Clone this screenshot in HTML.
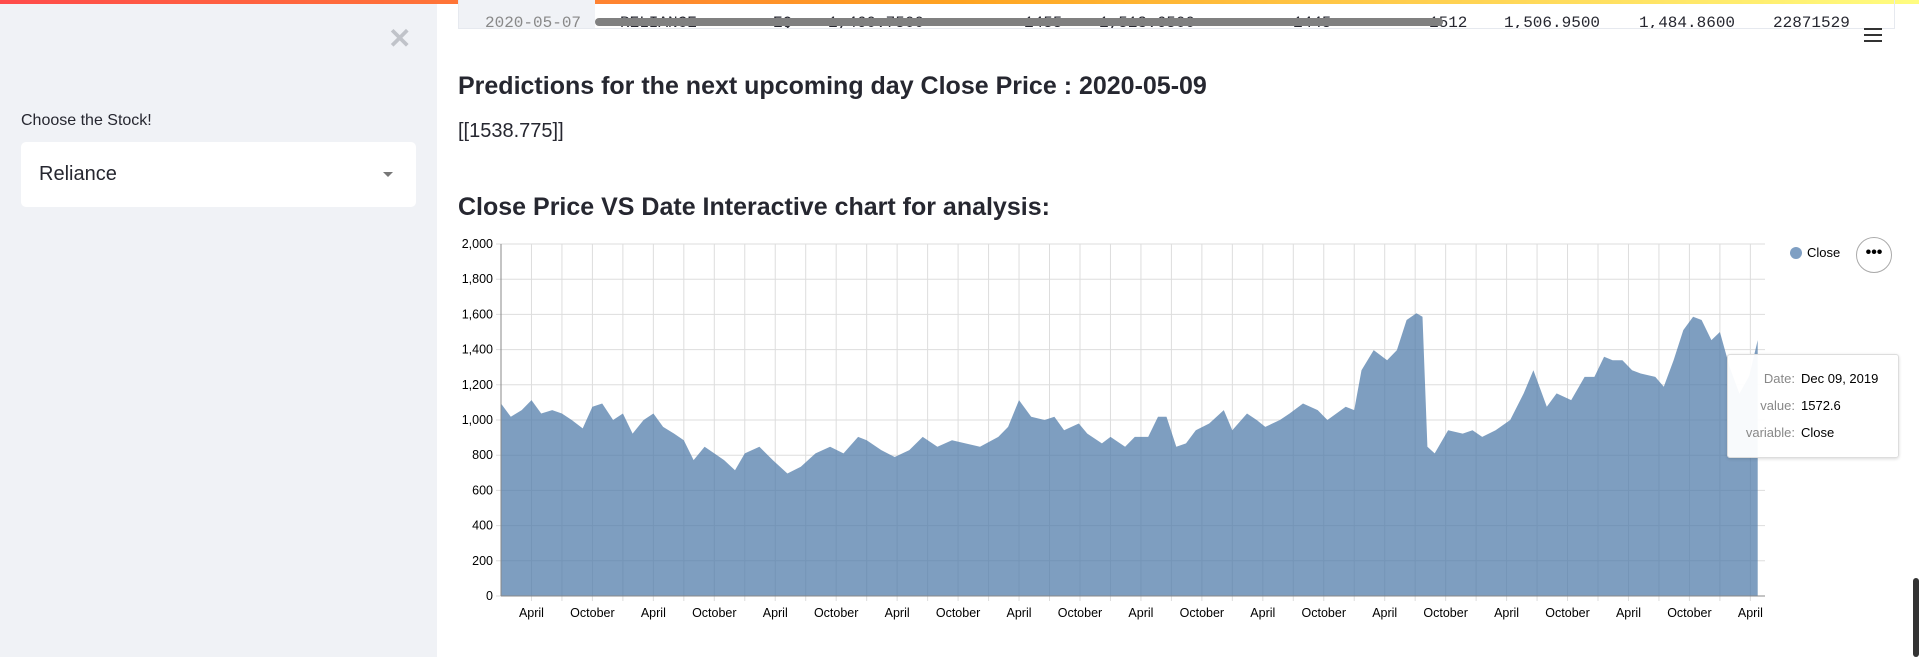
<!DOCTYPE html>
<html><head><meta charset="utf-8">
<style>
body{margin:0;width:1919px;height:657px;overflow:hidden;background:#fff;font-family:"Liberation Sans",sans-serif;position:relative}
.abs{position:absolute}
.mono{font-family:"Liberation Mono",monospace}
</style></head><body>
<div class="abs" style="left:0;top:0;width:1919px;height:4px;background:linear-gradient(90deg,#ff4b4b,#ffa421,#fffd80)"></div>
<div class="abs" style="left:0;top:4px;width:437px;height:653px;background:#f0f2f6">
  <div class="abs" style="left:388px;top:18px;font-size:28px;color:#c0c3c9;font-weight:bold">✕</div>
  <div class="abs" style="left:21px;top:108px;font-size:16px;color:#262730">Choose the Stock!</div>
  <div class="abs" style="left:21px;top:138px;width:395px;height:65px;background:#fff;border-radius:5px">
    <div class="abs" style="left:18px;top:21px;font-size:20px;color:#262730">Reliance</div>
    <div class="abs" style="left:362px;top:30px;width:0;height:0;border-left:5px solid transparent;border-right:5px solid transparent;border-top:5px solid #777"></div>
  </div>
</div>
<div class="abs" style="left:458px;top:0;width:1435px;height:28px;border:1px solid #e6e9ef;border-top:none;overflow:hidden">
  <div class="abs" style="left:0;top:0;width:136px;height:28px;background:#f0f2f6"></div>
  <div class="abs mono" style="left:0;top:-4px;height:20px;width:1435px;font-size:16px;color:#262730;white-space:pre">
    <span class="abs" style="left:26px;color:#888">2020-05-07</span><span class="abs" style="left:161px">RELIANCE</span><span class="abs" style="left:314px">EQ</span><span class="abs" style="left:369px">1,460.7500</span><span class="abs" style="left:565px">1455</span><span class="abs" style="left:640px">1,513.6500</span><span class="abs" style="left:834px">1445</span><span class="abs" style="left:970px">1512</span><span class="abs" style="left:1045px">1,506.9500</span><span class="abs" style="left:1180px">1,484.8600</span><span class="abs" style="left:1314px">22871529</span>
  </div>
  <div class="abs" style="left:136px;top:18px;width:848px;height:8px;background:#808080;border-radius:4px"></div>
</div>
<div class="abs" style="left:1864px;top:28px;width:18px">
  <div style="height:2px;background:#333;margin-bottom:4px"></div><div style="height:2px;background:#333;margin-bottom:4px"></div><div style="height:2px;background:#333"></div>
</div>
<div class="abs" style="left:458px;top:72px;font-size:25px;font-weight:bold;color:#262730">Predictions for the next upcoming day Close Price : 2020-05-09</div>
<div class="abs" style="left:458px;top:120px;font-size:20px;color:#262730">[[1538.775]]</div>
<div class="abs" style="left:458px;top:193px;font-size:25px;font-weight:bold;color:#262730">Close Price VS Date Interactive chart for analysis:</div>
<svg class="abs" id="chart" style="left:0;top:0" width="1919" height="657"></svg>
<div class="abs" style="left:1790px;top:244px;font-size:13px;color:#000">
  <span style="display:inline-block;width:12px;height:12px;border-radius:6px;background:#7f9fc3;vertical-align:middle;margin-right:5px"></span><span style="vertical-align:middle">Close</span></div>
<div class="abs" style="left:1856px;top:237px;width:34px;height:34px;border-radius:18px;border:1px solid #aaa;background:#fff;text-align:center;font-size:16px;line-height:30px;font-weight:bold">•••</div>
<div class="abs" style="left:1727px;top:354px;width:170px;height:102px;background:rgba(255,255,255,0.95);border:1px solid #ddd;border-radius:3px;box-shadow:0 1px 3px rgba(0,0,0,0.15);font-size:13px">
  <div class="abs" style="right:103px;top:16px;color:#888">Date:</div><div class="abs" style="left:73px;top:16px">Dec 09, 2019</div>
  <div class="abs" style="right:103px;top:43px;color:#888">value:</div><div class="abs" style="left:73px;top:43px">1572.6</div>
  <div class="abs" style="right:103px;top:70px;color:#888">variable:</div><div class="abs" style="left:73px;top:70px">Close</div>
</div>
<div class="abs" style="left:1913px;top:578px;width:6px;height:79px;background:#333;border-radius:3px"></div>
<script>
const dates=[2010.0,2010.08,2010.17,2010.25,2010.33,2010.42,2010.5,2010.58,2010.67,2010.75,2010.83,2010.92,
2011.0,2011.08,2011.17,2011.25,2011.33,2011.42,2011.5,2011.58,2011.67,2011.75,2011.83,2011.92,
2012.0,2012.12,2012.23,2012.35,2012.46,2012.58,2012.7,2012.81,2012.93,
2013.0,2013.12,2013.23,2013.35,2013.46,2013.58,2013.7,2013.81,2013.93,
2014.08,2014.16,2014.25,2014.35,2014.46,2014.54,2014.62,2014.74,2014.81,2014.93,
2015.0,2015.12,2015.2,2015.31,2015.39,2015.46,2015.54,2015.62,2015.7,2015.81,2015.93,
2016.0,2016.12,2016.2,2016.27,2016.39,2016.47,2016.58,2016.7,2016.78,2016.93,
2017.0,2017.06,2017.16,2017.27,2017.35,2017.43,2017.51,2017.56,2017.6,2017.66,2017.77,2017.89,2017.97,
2018.05,2018.16,2018.28,2018.39,2018.47,2018.58,2018.66,2018.78,2018.89,2018.97,
2019.05,2019.12,2019.2,2019.28,2019.35,2019.47,2019.54,2019.62,2019.7,2019.78,2019.85,2019.93,
2020.0,2020.08,2020.16,2020.24,2020.31,2020.37];
const closes=[1094,1018,1056,1113,1037,1056,1037,1000,952,1075,1094,1000,
1037,923,1000,1037,961,923,885,772,848,810,772,715,
810,848,772,696,734,810,848,810,904,
885,829,790,829,904,848,885,867,848,
904,961,1113,1018,1000,1018,942,980,923,867,
904,848,904,904,1018,1018,848,867,942,980,1056,
942,1037,1000,961,1000,1037,1094,1056,1000,
1075,1056,1283,1397,1340,1397,1568,1606,1587,848,810,942,923,
942,904,942,1000,1151,1283,1075,1151,1113,1245,
1245,1359,1340,1340,1283,1264,1245,1189,1340,1511,1587,1568,
1454,1500,1300,1150,1250,1454];
const yTicks=[0,200,400,600,800,1000,1200,1400,1600,1800,2000];
const xLabels=["April","October"];
const X0=501,X1=1765,Y0=596,Y1=244,T0=2010.0,T1=2020.37;
const xs=t=>X0+(t-T0)/(T1-T0)*(X1-X0);
const ys=v=>Y0-v/2000*(Y0-Y1);
const svg=document.getElementById('chart');const NS='http://www.w3.org/2000/svg';
function mk(tag,attrs){const e=document.createElementNS(NS,tag);for(const k in attrs)e.setAttribute(k,attrs[k]);svg.appendChild(e);return e;}
for(let yr=2010;yr<=2020;yr++)for(let q=0;q<4;q++){const t=yr+q*0.25;if(t<=T0||t>T1)continue;
 const gl=mk('line',{x1:xs(t),x2:xs(t),y1:Y1,y2:Y0+5,stroke:'#ddd'});
 
 
 if(q==1||q==3){const tx=mk('text',{x:xs(t),y:Y0+21,'text-anchor':'middle','font-size':12.5,fill:'#000','font-family':'Liberation Sans'});tx.textContent=xLabels[q==1?0:1];
 
 }}
yTicks.forEach(v=>{const gl=mk('line',{x1:X0-5,x2:X1,y1:ys(v),y2:ys(v),stroke:'#ddd'});
 
 
 const tx=mk('text',{x:X0-8,y:ys(v)+4,'text-anchor':'end','font-size':12.5,fill:'#000','font-family':'Liberation Sans'});tx.textContent=v.toLocaleString('en-US');
 
 });
const n=Math.min(dates.length,closes.length);
const pts=[];
pts.push(xs(dates[0]).toFixed(1)+','+Y0);
for(let i=0;i<n;i++){pts.push(xs(dates[i]).toFixed(1)+','+ys(closes[i]).toFixed(1));}
pts.push(xs(dates[n-1]).toFixed(1)+','+Y0);
const area=mk('polygon',{points:pts.join(' '),fill:'#4c78a8','fill-opacity':0.72});


const ax=mk('line',{x1:X0,x2:X1,y1:Y0,y2:Y0,stroke:'#888'});


const ay=mk('line',{x1:X0,x2:X0,y1:Y1,y2:Y0,stroke:'#888'});


</script>
</body></html>
